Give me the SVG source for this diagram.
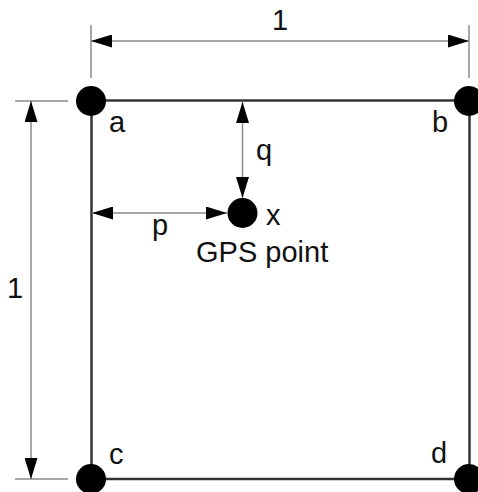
<svg xmlns="http://www.w3.org/2000/svg" width="478" height="492" viewBox="0 0 478 492">
  <style>
    .lbl { font-family: "Liberation Sans", Arial, sans-serif; font-size: 29px; fill: #111; }
    .edge { stroke: #333; stroke-width: 2.5; fill: none; }
    .dim { stroke: #8a8a8a; stroke-width: 1.5; fill: none; }
    .arr { stroke: #8a8a8a; stroke-width: 1.5; fill: none; marker-start: url(#ah); marker-end: url(#ah); }
    .dot { fill: #000; }
  </style>
  <defs>
    <marker id="ah" markerUnits="userSpaceOnUse" viewBox="0 0 21 13" refX="21" refY="6.5" markerWidth="21" markerHeight="13" orient="auto-start-reverse">
      <path d="M0,0 L21,6.5 L0,13 z" fill="#000"/>
    </marker>
  </defs>
  <rect width="478" height="492" fill="#fff"/>

  <g id="square">
    <line class="edge" x1="91" y1="100.5" x2="469" y2="100.5"/>
    <line class="edge" x1="91" y1="479" x2="469" y2="479"/>
    <line class="edge" x1="91.5" y1="100" x2="91.5" y2="479"/>
    <line class="edge" x1="469.5" y1="100" x2="469.5" y2="479"/>
  </g>

  <g id="connectors">
    <!-- top dimension -->
    <line class="dim" x1="91" y1="25" x2="91" y2="78"/>
    <line class="dim" x1="469" y1="25" x2="469" y2="78"/>
    <line class="arr" x1="91" y1="41" x2="469" y2="41"/>
    <!-- left dimension -->
    <line class="dim" x1="15" y1="101" x2="68" y2="101"/>
    <line class="dim" x1="15" y1="479" x2="68" y2="479"/>
    <line class="arr" x1="31" y1="101" x2="31" y2="479"/>
    <!-- q -->
    <line class="arr" x1="242.5" y1="102" x2="242.5" y2="198"/>
    <!-- p -->
    <line class="arr" x1="92" y1="213" x2="227" y2="213"/>
  </g>

  <g id="node-a">
    <circle class="dot" cx="91" cy="101" r="15"/>
    <text class="lbl" x="109" y="132">a</text>
  </g>
  <g id="node-b">
    <circle class="dot" cx="469" cy="101" r="15"/>
    <text class="lbl" x="432" y="132">b</text>
  </g>
  <g id="node-c">
    <circle class="dot" cx="91" cy="479" r="15"/>
    <text class="lbl" x="109" y="464">c</text>
  </g>
  <g id="node-d">
    <circle class="dot" cx="469" cy="479" r="15"/>
    <text class="lbl" x="431" y="463">d</text>
  </g>
  <g id="node-x">
    <circle class="dot" cx="242.5" cy="213" r="15"/>
    <text class="lbl" x="266" y="225">x</text>
    <text class="lbl" x="196" y="262">GPS point</text>
  </g>

  <g id="labels">
    <text class="lbl" x="272" y="30">1</text>
    <text class="lbl" x="7" y="298">1</text>
    <text class="lbl" x="256" y="160">q</text>
    <text class="lbl" x="152" y="235">p</text>
  </g>
</svg>
